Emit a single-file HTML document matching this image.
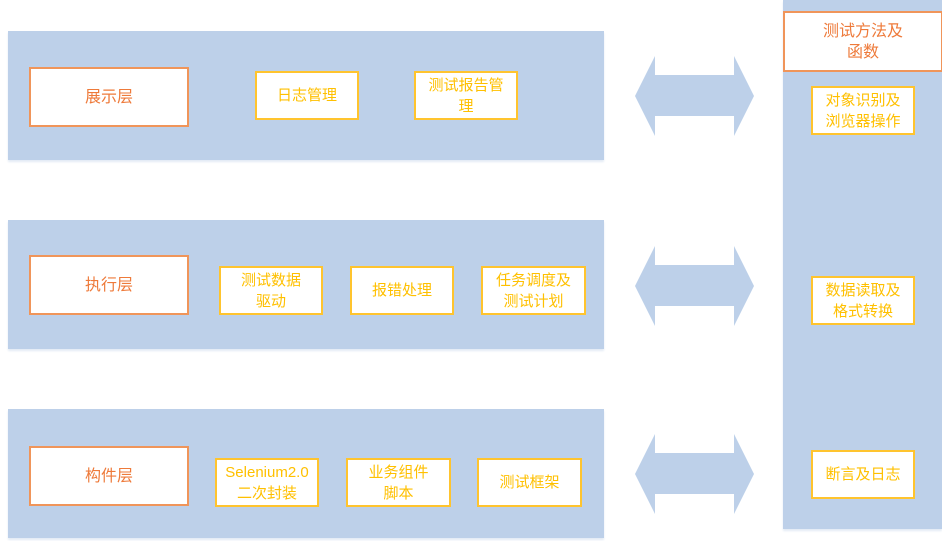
<!DOCTYPE html>
<html><head><meta charset="utf-8"><style>
body{margin:0;width:942px;height:541px;background:#fff;position:relative;overflow:hidden;font-family:"Liberation Sans","Noto Sans CJK SC",sans-serif}
.p{position:absolute;background:#BDD0E9;box-shadow:0 2px 2px #e3ebf5}
.b{position:absolute;box-sizing:border-box;background:#fff;display:flex;align-items:center;justify-content:center;text-align:center;font-size:15px;line-height:21px}
.o{border:2px solid #F0955A;color:#EE7A3A;font-size:16px}
.y{border:2px solid #FFC42E;color:#FFC000}
svg{position:absolute;left:0;top:0}
</style></head><body>
<div class="p" style="left:8px;top:31px;width:596px;height:129px"></div>
<div class="p" style="left:8px;top:220px;width:596px;height:129px"></div>
<div class="p" style="left:8px;top:409px;width:596px;height:129px"></div>
<div class="p" style="left:783px;top:0;width:159px;height:529px"></div>
<svg width="942" height="541">
<g fill="#BDD0E9">
<polygon points="635,96 655,56 655,75 734,75 734,56 754,96 734,136 734,116 655,116 655,136"/>
<polygon points="635,286 655,246 655,265 734,265 734,246 754,286 734,326 734,306 655,306 655,326"/>
<polygon points="635,474 655,434 655,453 734,453 734,434 754,474 734,514 734,494 655,494 655,514"/>
</g></svg>
<div class="b o" style="left:29px;top:67px;width:160px;height:60px">展示层</div>
<div class="b y" style="left:255px;top:71px;width:104px;height:49px">日志管理</div>
<div class="b y" style="left:414px;top:71px;width:104px;height:49px">测试报告管<br>理</div>
<div class="b o" style="left:29px;top:255px;width:160px;height:60px">执行层</div>
<div class="b y" style="left:219px;top:266px;width:104px;height:49px">测试数据<br>驱动</div>
<div class="b y" style="left:350px;top:266px;width:104px;height:49px">报错处理</div>
<div class="b y" style="left:481px;top:266px;width:105px;height:49px">任务调度及<br>测试计划</div>
<div class="b o" style="left:29px;top:446px;width:160px;height:60px">构件层</div>
<div class="b y" style="left:215px;top:458px;width:104px;height:49px">Selenium2.0<br>二次封装</div>
<div class="b y" style="left:346px;top:458px;width:105px;height:49px">业务组件<br>脚本</div>
<div class="b y" style="left:477px;top:458px;width:105px;height:49px">测试框架</div>
<div class="b o" style="left:783px;top:11px;width:160px;height:61px">测试方法及<br>函数</div>
<div class="b y" style="left:811px;top:86px;width:104px;height:49px">对象识别及<br>浏览器操作</div>
<div class="b y" style="left:811px;top:276px;width:104px;height:49px">数据读取及<br>格式转换</div>
<div class="b y" style="left:811px;top:450px;width:104px;height:49px">断言及日志</div>
</body></html>
